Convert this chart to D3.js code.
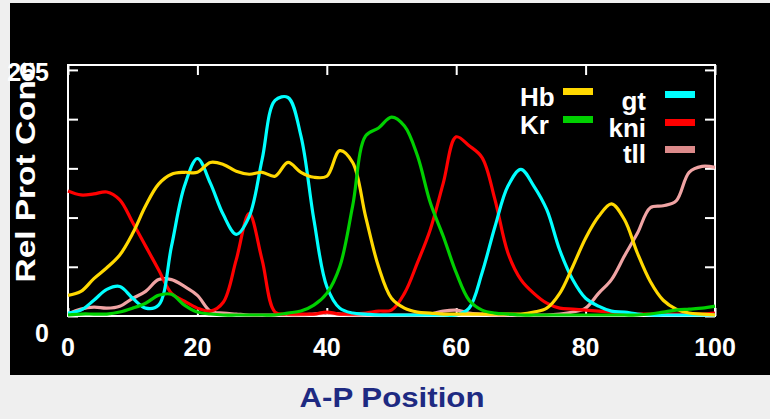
<!DOCTYPE html>
<html>
<head>
<meta charset="utf-8">
<script src="https://cdn.jsdelivr.net/npm/d3@7"></script>
<style>
    body { margin: 0; background: #efefef; }
    text { font-family: "Liberation Sans", Arial, sans-serif; font-weight: bold; }
</style>
</head>
<body>
<div id="chart"></div>
<script>
// A-P position (every 2 %)
var positions = d3.range(0, 101, 2);

// relative protein concentration, one list per gene
var hb  = [21, 25, 38, 49, 62, 84, 112, 134, 144, 146, 146, 156, 154, 147, 144, 146, 142, 156, 146, 141,
           142, 168, 156, 101, 50, 18, 8, 4, 3, 2, 2, 2, 2, 2, 2, 2, 4, 8, 23, 50,
           79, 101, 114, 98, 64, 35, 16, 7, 3, 2, 1];
var kr  = [1, 2, 2, 2, 4, 8, 13, 21, 22, 11, 4, 2, 1, 1, 1, 1, 1, 3, 5, 11,
           23, 50, 112, 183, 191, 202, 193, 163, 115, 81, 44, 16, 6, 3, 2, 1, 1, 1, 1, 1,
           1, 1, 1, 1, 1, 2, 4, 6, 7, 8, 10];
var gt  = [3, 6, 16, 27, 30, 18, 8, 11, 71, 132, 160, 135, 103, 83, 101, 159, 219, 222, 183, 98,
           30, 8, 3, 2, 1, 1, 1, 1, 1, 1, 1, 8, 44, 91, 132, 149, 132, 108, 67, 37,
           18, 10, 5, 4, 2, 1, 1, 1, 1, 1, 1];
var kni = [127, 123, 124, 126, 118, 95, 71, 47, 23, 15, 8, 5, 14, 57, 104, 57, 4, 2, 2, 2,
           4, 2, 2, 3, 5, 6, 23, 54, 88, 135, 182, 173, 161, 118, 64, 37, 23, 13, 8, 7,
           6, 5, 4, 3, 2, 2, 2, 2, 2, 2, 3];
var tll = [2, 7, 9, 8, 10, 18, 25, 37, 37, 30, 21, 5, 3, 2, 1, 1, 1, 1, 1, 2,
           3, 2, 1, 1, 1, 1, 1, 1, 2, 5, 6, 3, 2, 1, 1, 1, 1, 1, 2, 4,
           8, 23, 37, 61, 84, 110, 112, 117, 146, 152, 151];

var genes = ['Hb', 'Kr', 'gt', 'kni', 'tll'];
var geneColor = ['#ffd800', '#00d000', '#00ffff', '#ff0000', '#f0a4a4'];
var legendColor = ['#ffd800', '#00d000', '#00ffff', '#ff0000', '#dc8a8a'];

var xTicks = [0, 20, 40, 60, 80, 100];
var yTicks = [0, 50, 100, 150, 200, 250];
var yLabels = [0, 255];

var width = 770,
    height = 419;

var svg = d3.select("#chart")
    .append("svg")
    .attr("width", width)
    .attr("height", height);

// black slide panel
svg.append("rect")
    .attr("x", 10)
    .attr("y", 3)
    .attr("width", 760)
    .attr("height", 372)
    .attr("fill", "#000");

//scales
var x = d3.scaleLinear().domain([0, 100]).range([68, 715]);
var y = d3.scaleLinear().domain([0, 255]).range([316, 65]);

// frame
svg.append("rect")
    .attr("x", x(0))
    .attr("y", y(255))
    .attr("width", x(100) - x(0))
    .attr("height", y(0) - y(255))
    .attr("fill", "none")
    .attr("stroke", "#fff")
    .attr("stroke-width", 2);

// inward ticks on all four sides
svg.append("g")
    .attr("transform", "translate(" + x(0) + ",0)")
    .call(d3.axisRight(y).tickValues(yTicks).tickSize(10).tickFormat(""))
    .call(g => g.select(".domain").remove());
svg.append("g")
    .attr("transform", "translate(" + x(100) + ",0)")
    .call(d3.axisLeft(y).tickValues(yTicks).tickSize(10).tickFormat(""))
    .call(g => g.select(".domain").remove());
svg.append("g")
    .attr("transform", "translate(0," + y(255) + ")")
    .call(d3.axisBottom(x).tickValues(xTicks).tickSize(10).tickFormat(""))
    .call(g => g.select(".domain").remove());
svg.append("g")
    .attr("transform", "translate(0," + y(0) + ")")
    .call(d3.axisTop(x).tickValues(xTicks).tickSize(8).tickFormat(""))
    .call(g => g.select(".domain").remove());
svg.selectAll(".tick line").attr("stroke", "#fff").attr("stroke-width", 2);

// tick labels
svg.selectAll(".xlab")
    .data(xTicks)
    .enter().append("text")
    .attr("x", d => x(d))
    .attr("y", 356)
    .attr("text-anchor", "middle")
    .attr("fill", "#fff")
    .style("font-size", "25px")
    .text(d => d);

svg.selectAll(".ylab")
    .data(yLabels)
    .enter().append("text")
    .attr("x", 49)
    .attr("y", d => d == 0 ? 342 : 81)
    .attr("text-anchor", "end")
    .attr("fill", "#fff")
    .style("font-size", "25px")
    .text(d => d);

// axis titles
svg.append("text")
    .attr("transform", "translate(35,172) rotate(-90)")
    .attr("text-anchor", "middle")
    .attr("fill", "#fff")
    .attr("textLength", 221)
    .attr("lengthAdjust", "spacingAndGlyphs")
    .style("font-size", "28px")
    .text("Rel Prot Conc");

svg.append("text")
    .attr("x", 392)
    .attr("y", 407)
    .attr("text-anchor", "middle")
    .attr("fill", "#1e2a82")
    .attr("textLength", 185)
    .attr("lengthAdjust", "spacingAndGlyphs")
    .style("font-size", "28px")
    .text("A-P Position");

// curves
var series = [hb, kr, gt, kni, tll];
var line = d3.line()
    .x((d, i) => x(positions[i]))
    .y(d => y(d))
    .curve(d3.curveCatmullRom.alpha(0.5));

var drawOrder = [4, 3, 2, 0, 1];
svg.selectAll(".gene")
    .data(drawOrder)
    .enter().append("path")
    .attr("class", "gene")
    .attr("d", k => line(series[k]))
    .attr("fill", "none")
    .attr("stroke", k => geneColor[k])
    .attr("stroke-width", 3.2)
    .attr("stroke-linejoin", "round");

// legend: two columns
var legendPos = [
    { tx: 520, ty: 106, anchor: "start", sx: 563, sy: 91 },
    { tx: 520, ty: 134, anchor: "start", sx: 563, sy: 119 },
    { tx: 646, ty: 110, anchor: "end", sx: 665, sy: 94 },
    { tx: 646, ty: 137, anchor: "end", sx: 665, sy: 122 },
    { tx: 646, ty: 163, anchor: "end", sx: 665, sy: 149 }
];

var legend = svg.selectAll(".legend")
    .data(genes)
    .enter().append("g")
    .attr("class", "legend");

legend.append("text")
    .attr("x", (d, i) => legendPos[i].tx)
    .attr("y", (d, i) => legendPos[i].ty)
    .attr("text-anchor", (d, i) => legendPos[i].anchor)
    .attr("fill", "#fff")
    .style("font-size", "26px")
    .text(d => d);

legend.append("rect")
    .attr("x", (d, i) => legendPos[i].sx)
    .attr("y", (d, i) => legendPos[i].sy - 3)
    .attr("width", 30)
    .attr("height", 7)
    .attr("fill", (d, i) => legendColor[i]);
</script>
</body>
</html>
